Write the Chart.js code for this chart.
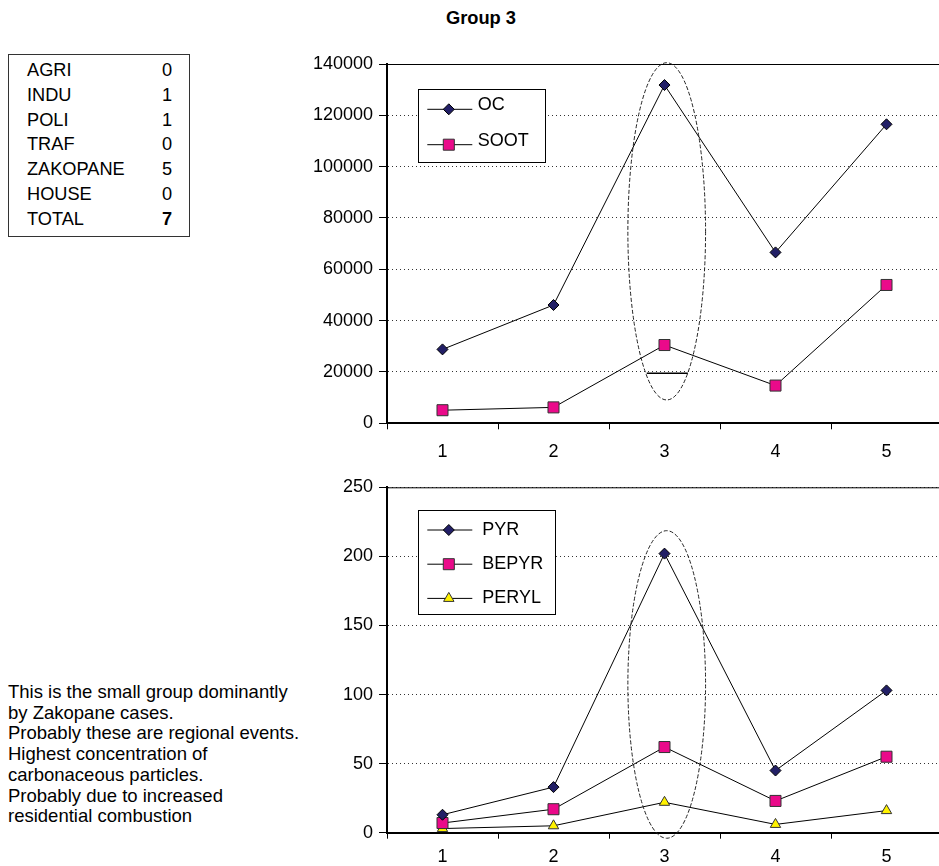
<!DOCTYPE html>
<html>
<head>
<meta charset="utf-8">
<title>Group 3</title>
<script src="https://cdn.jsdelivr.net/npm/chart.js@4.4.1/dist/chart.umd.min.js"></script>
<style>
  html, body { margin: 0; padding: 0; background: #fff; overflow: hidden; width: 939px; height: 866px; }
  body { position: relative; font-family: 'Liberation Sans', Arial, sans-serif; color: #000; }
  #title { position: absolute; left: 381px; width: 200px; top: 7px; text-align: center;
           font-weight: bold; font-size: 18.3px; line-height: 22px; }
  #counts { position: absolute; left: 8px; top: 54px; width: 180px; height: 178px;
            border: 1px solid #333; padding-top: 3px; font-size: 18.2px; line-height: 24.75px; }
  #counts .row { display: flex; white-space: nowrap; }
  #counts .name { width: 135px; padding-left: 18px; }
  #counts .total .num { font-weight: bold; }
  #note { position: absolute; left: 8px; top: 682px; font-size: 18.5px; line-height: 20.7px; white-space: pre; }
  canvas { position: absolute; }
  #carbonChart { left: 291px; top: 40px; }
  #pahChart { left: 291px; top: 470px; }
</style>
</head>
<body>
<div id="title">Group 3</div>
<div id="counts"></div>
<div id="note"></div>
<canvas id="carbonChart" width="660" height="430"></canvas>
<canvas id="pahChart" width="660" height="396"></canvas>
<script>
// ---- data ----
const sourceNames = ['AGRI', 'INDU', 'POLI', 'TRAF', 'ZAKOPANE', 'HOUSE'];
const sourceCounts = [0, 1, 1, 0, 5, 0];

const samples = ['1', '2', '3', '4', '5'];

const ocValues   = [28800, 46100, 131800, 66600, 116500];
const sootValues = [5100, 6200, 30500, 14700, 53900];

const pyrValues   = [13, 33, 202, 45, 103];
const bepyrValues = [7, 17, 62, 23, 55];
const perylValues = [3, 5, 22, 6, 16];

const carbonTicks = [0, 20000, 40000, 60000, 80000, 100000, 120000, 140000];
const pahTicks    = [0, 50, 100, 150, 200, 250];

const noteLines = [
  'This is the small group dominantly',
  'by Zakopane cases.',
  'Probably these are regional events.',
  'Highest concentration of',
  'carbonaceous particles.',
  'Probably due to increased',
  'residential combustion'
];

// ---- side table and note ----
const counts = document.getElementById('counts');
function addRow(name, num, cls) {
  const row = document.createElement('div');
  row.className = 'row' + (cls ? ' ' + cls : '');
  const a = document.createElement('span'); a.className = 'name'; a.textContent = name;
  const b = document.createElement('span'); b.className = 'num'; b.textContent = String(num);
  row.appendChild(a); row.appendChild(b);
  counts.appendChild(row);
}
sourceNames.forEach((n, i) => addRow(n, sourceCounts[i]));
addRow('TOTAL', sourceCounts.reduce((s, v) => s + v, 0), 'total');
document.getElementById('note').textContent = noteLines.join('\n');

// ---- chart styling ----
const FONT = "'Liberation Sans', Arial, sans-serif";
Chart.defaults.font.family = FONT;
Chart.defaults.font.size = 18;
Chart.defaults.color = '#000';

const NAVY = '#221f66';
const PINK = '#ea0a8a';
const YELLOW = '#fff200';

function lineSeries(label, data, style, radius, fill, edge) {
  return {
    label, data,
    borderColor: '#000', borderWidth: 1, tension: 0, fill: false,
    pointStyle: style, pointRadius: radius, pointHoverRadius: radius,
    pointBackgroundColor: fill, pointBorderColor: edge, pointBorderWidth: 1,
    clip: false
  };
}

// Frame, highlight ellipse, stray rule and boxed legend
const decor = {
  id: 'decor',
  afterDatasetsDraw(chart, args, opts) {
    const { ctx, chartArea: ca, scales: { x, y } } = chart;
    ctx.save();
    // plot frame (top edge and right edge)
    ctx.strokeStyle = '#000';
    ctx.lineWidth = 1;
    ctx.beginPath();
    ctx.moveTo(ca.left, ca.top + 0.5);
    ctx.lineTo(ca.right, ca.top + 0.5);
    ctx.lineTo(ca.right, ca.bottom);
    ctx.stroke();
    // dashed ellipse around a sample
    const e = opts.ellipse;
    if (e) {
      const x0 = x.getPixelForValue(e.index - e.halfWidth);
      const x1 = x.getPixelForValue(e.index + e.halfWidth);
      const y0 = y.getPixelForValue(e.top);
      const y1 = y.getPixelForValue(e.bottom);
      ctx.setLineDash([4, 2]);
      ctx.strokeStyle = '#222';
      ctx.beginPath();
      ctx.ellipse((x0 + x1) / 2, (y0 + y1) / 2, (x1 - x0) / 2, (y1 - y0) / 2, 0, 0, Math.PI * 2);
      ctx.stroke();
      ctx.setLineDash([]);
    }
    (opts.rules || []).forEach(r => {
      const py = y.getPixelForValue(r.value);
      ctx.lineWidth = r.width;
      ctx.strokeStyle = '#000';
      ctx.beginPath();
      ctx.moveTo(x.getPixelForValue(r.from), py);
      ctx.lineTo(x.getPixelForValue(r.to), py);
      ctx.stroke();
    });
    ctx.restore();
  },
  afterDraw(chart, args, opts) {
    const L = opts.legend;
    if (!L) return;
    const { ctx, chartArea: ca } = chart;
    const bx = ca.left + L.dx, by = ca.top + L.dy;
    ctx.save();
    ctx.fillStyle = '#fff';
    ctx.fillRect(bx, by, L.width, L.height);
    ctx.strokeStyle = '#000';
    ctx.lineWidth = 1;
    ctx.strokeRect(Math.round(bx) + 0.5, Math.round(by) + 0.5, L.width, L.height);
    chart.data.datasets.forEach((ds, i) => {
      const cy = by + L.firstRow + i * L.rowGap;
      ctx.strokeStyle = '#000';
      ctx.lineWidth = 1;
      ctx.beginPath();
      ctx.moveTo(bx + 9, cy);
      ctx.lineTo(bx + 54, cy);
      ctx.stroke();
      ctx.fillStyle = ds.pointBackgroundColor;
      ctx.strokeStyle = ds.pointBorderColor;
      Chart.helpers.drawPoint(ctx, {
        pointStyle: ds.pointStyle, radius: ds.pointRadius, borderWidth: 1, rotation: 0
      }, bx + 30.5, cy);
      ctx.fillStyle = '#000';
      ctx.font = '18px ' + FONT;
      ctx.textBaseline = 'middle';
      ctx.textAlign = 'left';
      ctx.fillText(ds.label, bx + L.textX, cy + L.textDy);
    });
    ctx.restore();
  }
};

function axes(ticks, yMax, xHeight, xPad) {
  return {
    x: {
      type: 'category', offset: true,
      grid: { offset: true, drawOnChartArea: false, drawTicks: true, tickLength: 6, tickColor: '#000', tickWidth: 1 },
      border: { display: true, color: '#000', width: 2 },
      ticks: { padding: xPad, color: '#000', maxRotation: 0, autoSkip: false },
      afterFit(s) { s.height = xHeight; }
    },
    y: {
      min: 0, max: yMax,
      afterBuildTicks(s) { s.ticks = ticks.map(v => ({ value: v })); },
      grid: { color: '#333', lineWidth: 1, drawTicks: true, tickLength: 8, tickColor: '#000', tickWidth: 1 },
      border: { display: true, color: '#000', width: 2, dash: [1, 3] },
      ticks: { padding: 6, color: '#000', callback: v => String(v) },
      afterFit(s) { s.width = 96; }
    }
  };
}

const common = {
  responsive: false, animation: false, devicePixelRatio: 1,
  events: []
};

new Chart(document.getElementById('carbonChart'), {
  type: 'line',
  data: {
    labels: samples,
    datasets: [
      lineSeries('OC', ocValues, 'rectRot', 5.5, NAVY, '#000'),
      lineSeries('SOOT', sootValues, 'rect', 7.8, PINK, '#333')
    ]
  },
  options: Object.assign({}, common, {
    layout: { padding: { top: 24, right: 9, bottom: 0, left: 0 } },
    scales: axes(carbonTicks, 140000, 46.7, 12),
    plugins: {
      legend: { display: false }, tooltip: { enabled: false },
      decor: {
        ellipse: { index: 2.02, halfWidth: 0.35, top: 140500, bottom: 9100 },
        rules: [{ from: 1.84, to: 2.21, value: 19500, width: 1.5 }],
        legend: { dx: 31.3, dy: 25, width: 127, height: 73, firstRow: 20.3, rowGap: 35.4, textX: 59.4, textDy: -4 }
      }
    }
  }),
  plugins: [decor]
});

new Chart(document.getElementById('pahChart'), {
  type: 'line',
  data: {
    labels: samples,
    datasets: [
      lineSeries('PYR', pyrValues, 'rectRot', 5.5, NAVY, '#000'),
      lineSeries('BEPYR', bepyrValues, 'rect', 7.8, PINK, '#333'),
      lineSeries('PERYL', perylValues, 'triangle', 6, YELLOW, '#333')
    ]
  },
  options: Object.assign({}, common, {
    layout: { padding: { top: 17.3, right: 9, bottom: 0, left: 0 } },
    scales: axes(pahTicks, 250, 33.3, 8),
    plugins: {
      legend: { display: false }, tooltip: { enabled: false },
      decor: {
        ellipse: { index: 2.02, halfWidth: 0.35, top: 218.6, bottom: -4 },
        legend: { dx: 31.3, dy: 22.7, width: 137, height: 104, firstRow: 20, rowGap: 34.2, textX: 64, textDy: 0 }
      }
    }
  }),
  plugins: [decor]
});
</script>
</body>
</html>
